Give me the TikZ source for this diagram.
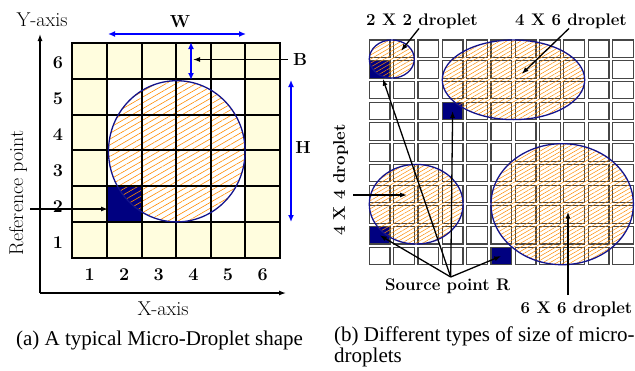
\documentclass[tikz,border=0pt]{standalone}
\usepackage{fontspec}
\newfontfamily\capfont{Liberation Serif}
\usetikzlibrary{arrows.meta,patterns.meta}

\definecolor{cream}{RGB}{255,253,222}
\definecolor{cellnavy}{RGB}{0,0,128}
\definecolor{rimblue}{RGB}{20,20,140}
\definecolor{hatchorange}{RGB}{255,140,0}
\definecolor{cellgray}{RGB}{70,70,70}

\begin{document}
\begin{tikzpicture}[x=1pt, y=-1pt,
  arr/.style={-{Latex[length=7pt,width=5pt]}, line width=1.3pt},
  dimarr/.style={{Latex[length=7pt,width=6pt]}-{Latex[length=7pt,width=6pt]}, line width=1.6pt, blue},
  gridln/.style={line width=2pt, line cap=rect},
  rcell/.style={draw=cellgray, fill=white, line width=1.1pt, minimum width=20.7pt, minimum height=17.4pt, inner sep=0pt},
  dropL/.style={pattern={Lines[angle=30,distance=5pt,line width=0.6pt]}, pattern color=hatchorange},
  dropR/.style={pattern={Lines[angle=30,distance=3.5pt,line width=0.5pt]}, pattern color=hatchorange},
  rim/.style={draw=rimblue, line width=1.3pt},
  lbl/.style={font=\fontsize{16.8}{18}\selectfont\bfseries, inner sep=0pt},
  axlbl/.style={font=\fontsize{20}{22}\selectfont, inner sep=0pt},
  num/.style={font=\fontsize{18}{20}\selectfont\bfseries, inner sep=0pt},
  dim/.style={font=\fontsize{17.5}{19}\selectfont\bfseries, inner sep=0pt},
  captxt/.style={font=\capfont\fontsize{21}{18}\selectfont, inner sep=0pt}
]
\useasboundingbox (0,0) rectangle (635,370);

% (a) typical droplet: cells
\fill[cream] (72.3,42.7) rectangle (279.9,258.3);
\fill[white] (106.9,78.6) rectangle (245.3,222.4);
\fill[cellnavy] (106.9,186.4) rectangle (141.5,222.4);
\path[dropL] (176.8,151.3) ellipse [x radius=68.3, y radius=70.6];
\foreach \k in {0,...,6} {
  \draw[gridln] (72.3+34.6*\k,42.7) -- (72.3+34.6*\k,258.3);
  \draw[gridln] (72.3,42.7+35.93*\k) -- (279.9,42.7+35.93*\k);
}
\draw[rim] (176.8,151.3) ellipse [x radius=68.3, y radius=70.6];

% row and column numbers
\foreach \k in {1,...,6} {
  \node[num] (row\k) at (58,260.3-35.93*\k+17.97) {\k};
  \node[num] (col\k) at (55+34.6*\k,275) {\k};
}

% axes
\coordinate (origin) at (40,293);
\coordinate (ytip) at (40,34);
\coordinate (xtip) at (286,293);
\draw[arr] (origin) -- (ytip);
\draw[arr] (origin) -- (xtip);
\node[axlbl, anchor=base] (labY) at (42,26) {Y-axis};
\node[axlbl, anchor=base] (labX) at (163,315) {X-axis};
\node[axlbl, rotate=90] (labRef) at (18,193) {Reference point};
\coordinate (refTail) at (30,209);
\coordinate (refTip) at (108,209);
\draw[arr] (refTail) -- (refTip);

% W, B and H
\node[dim, anchor=base] (labW) at (180,27) {W};
\coordinate (wL) at (108,34);
\coordinate (wR) at (246,34);
\draw[dimarr] (wL) -- (wR);
\coordinate (bTop) at (191,42);
\coordinate (bBot) at (191,80);
\draw[dimarr] (bTop) -- (bBot);
\node[dim] (labB) at (300,59.5) {B};
\coordinate (bTip) at (193,59.5);
\draw[arr] ([xshift=-5pt]labB.west) -- (bTip);
\coordinate (hTop) at (291,80);
\coordinate (hBot) at (291,222);
\draw[dimarr] (hTop) -- (hBot);
\node[dim] (labH) at (303,147) {H};

% (b) droplet sizes: cells
\foreach \i in {0,...,10}
  \foreach \j in {0,...,10}
    \node[rcell] (R-\i-\j) at (379.65+24.33*\i,48.7+20.73*\j) {};
\foreach \c in {0-1,3-3,0-9,5-10}
  \node[rcell, fill=cellnavy] at (R-\c) {};

% droplets
\draw[dropR, rim] (391.8,59.05) ellipse [x radius=22.5, y radius=19.05];
\draw[dropR, rim] (513.5,79.8) ellipse [x radius=71.2, y radius=39.8];
\draw[dropR, rim] (416.2,204.2) ellipse [x radius=46.9, y radius=39.8];
\draw[dropR, rim] (562.2,204.2) ellipse [x radius=71.2, y radius=60.5];

% labels
\node[lbl, anchor=base] (lab22) at (422,25) {2 X 2 droplet};
\coordinate (tip22) at (401,51);
\draw[arr] ([xshift=-3pt]lab22.south) -- (tip22);
\node[lbl, anchor=base] (lab46) at (571,25) {4 X 6 droplet};
\coordinate (tip46) at (521.7,74);
\draw[arr] ([xshift=-2pt]lab46.south) -- (tip46);
\node[lbl, rotate=90] (lab44) at (340.7,180) {4 X 4 droplet};
\coordinate (tail44) at (353,195);
\coordinate (tip44) at (407,195);
\draw[arr] (tail44) -- (tip44);
\node[lbl, anchor=base] (lab66) at (576.5,313) {6 X 6 droplet};
\coordinate (tail66) at (568,295);
\coordinate (tip66) at (568,211.7);
\draw[arr] (tail66) -- (tip66);
\node[lbl, anchor=base] (labSrc) at (447.7,290.5) {Source point R};
\coordinate (srcR) at (450.7,277);
\draw[arr] (srcR) -- (R-0-1);
\draw[arr] (srcR) -- (R-3-3.center);
\draw[arr] (srcR) -- (R-0-9.center);
\draw[arr] (srcR) -- (R-5-10.center);

% captions
\node[captxt, anchor=base] (capA) at (159.5,345) {(a) A typical Micro-Droplet shape};
\node[captxt, anchor=base west, align=left] (capB) at (334,362) {(b) Different types of size of micro-\\droplets};
\end{tikzpicture}
\end{document}
